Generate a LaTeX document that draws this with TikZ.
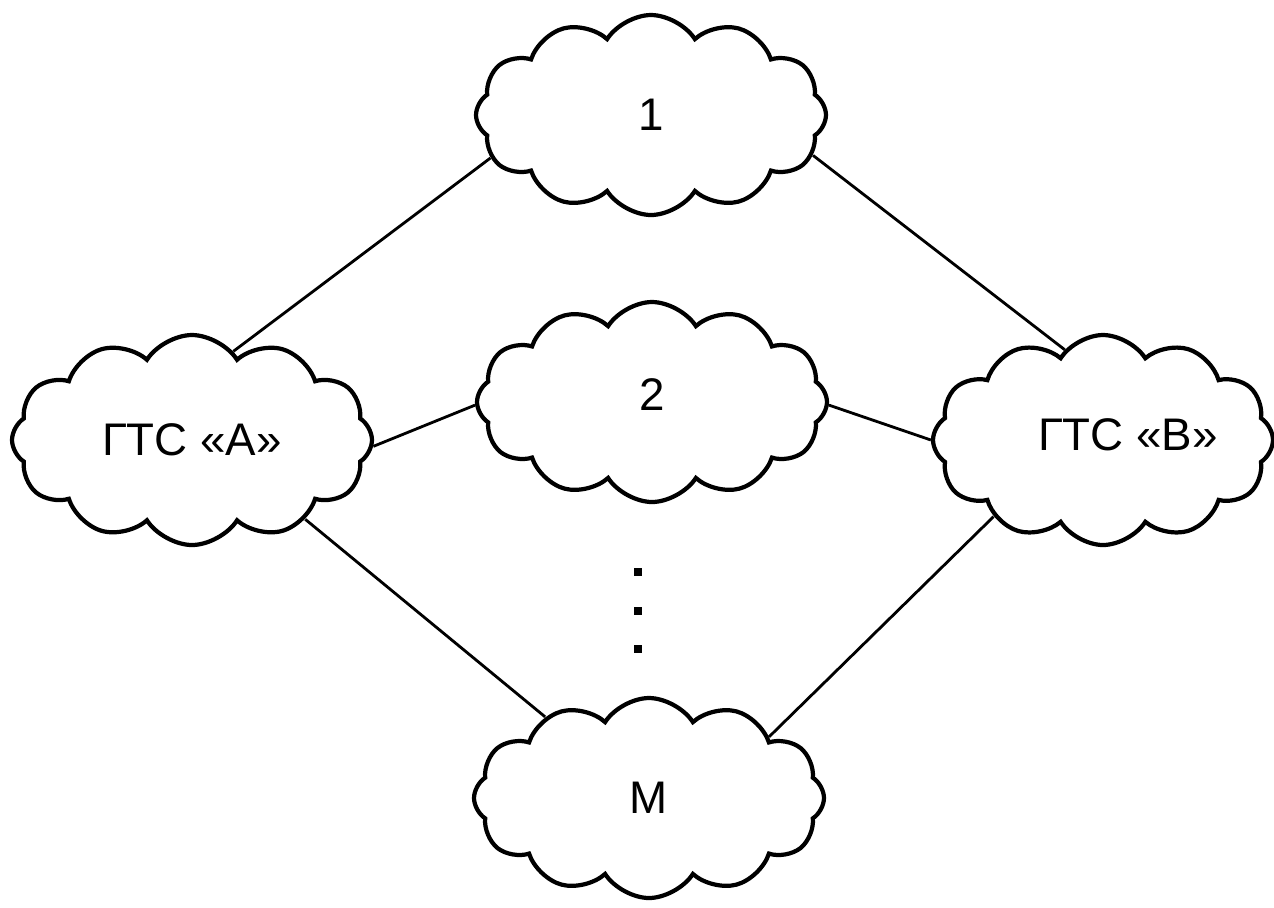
\documentclass[tikz,border=0pt]{standalone}
\usepackage{fontspec}
\setmainfont{Liberation Sans}
\usepackage{tikz}
\usetikzlibrary{shapes.symbols,positioning}

\begin{document}
\begin{tikzpicture}[
      x=0.1mm,y=-0.1mm,
      cloud_net/.style={
         cloud,
         cloud puffs=12,
         cloud puff arc=115,
         cloud ignores aspect,
         draw=black,
         line width=1.2pt,
         fill=white,
         inner sep=0pt,
         minimum width=35mm,
         minimum height=20mm,
         font=\fontsize{13}{15}\selectfont},
       link_line/.style={
         line width=0.8pt,
         draw=black},
       vdot/.style={
         rectangle,
         fill=black,
         inner sep=0pt,
         minimum size=0.8mm}
]
      \useasboundingbox (0,0) rectangle (1274,907);
      %end networks
      \node[cloud_net,minimum width=36mm,minimum height=21mm] (A) at (192,440) {ГТС «А»};
      \node[cloud_net,minimum width=34mm,minimum height=21mm] (B) at (1103,440) {\hspace{5mm}\raisebox{1mm}{ГТС «В»}};

      %transit networks
      \node[cloud_net] (n1) at (651,115) {1};
      \node[cloud_net] (n2) at (652,402) {\raisebox{1.5mm}{2}};
      \node[cloud_net] (nM) at (649,798) {M};

      \node[vdot] (d1) at (638,572) {};
      \node[vdot] (d2) at (638,611) {};
      \node[vdot] (d3) at (638,649) {};

    \foreach \i/\j in {% start node.angle/end node.angle
      A.65/n1.195,
      n1.346/B.113,
      A.358/n2.181,
      n2.359/B.180,
      A.325/nM.142,
      nM.27/B.215}
      \draw [link_line] (\i) -- (\j);
\end{tikzpicture}
\end{document}
